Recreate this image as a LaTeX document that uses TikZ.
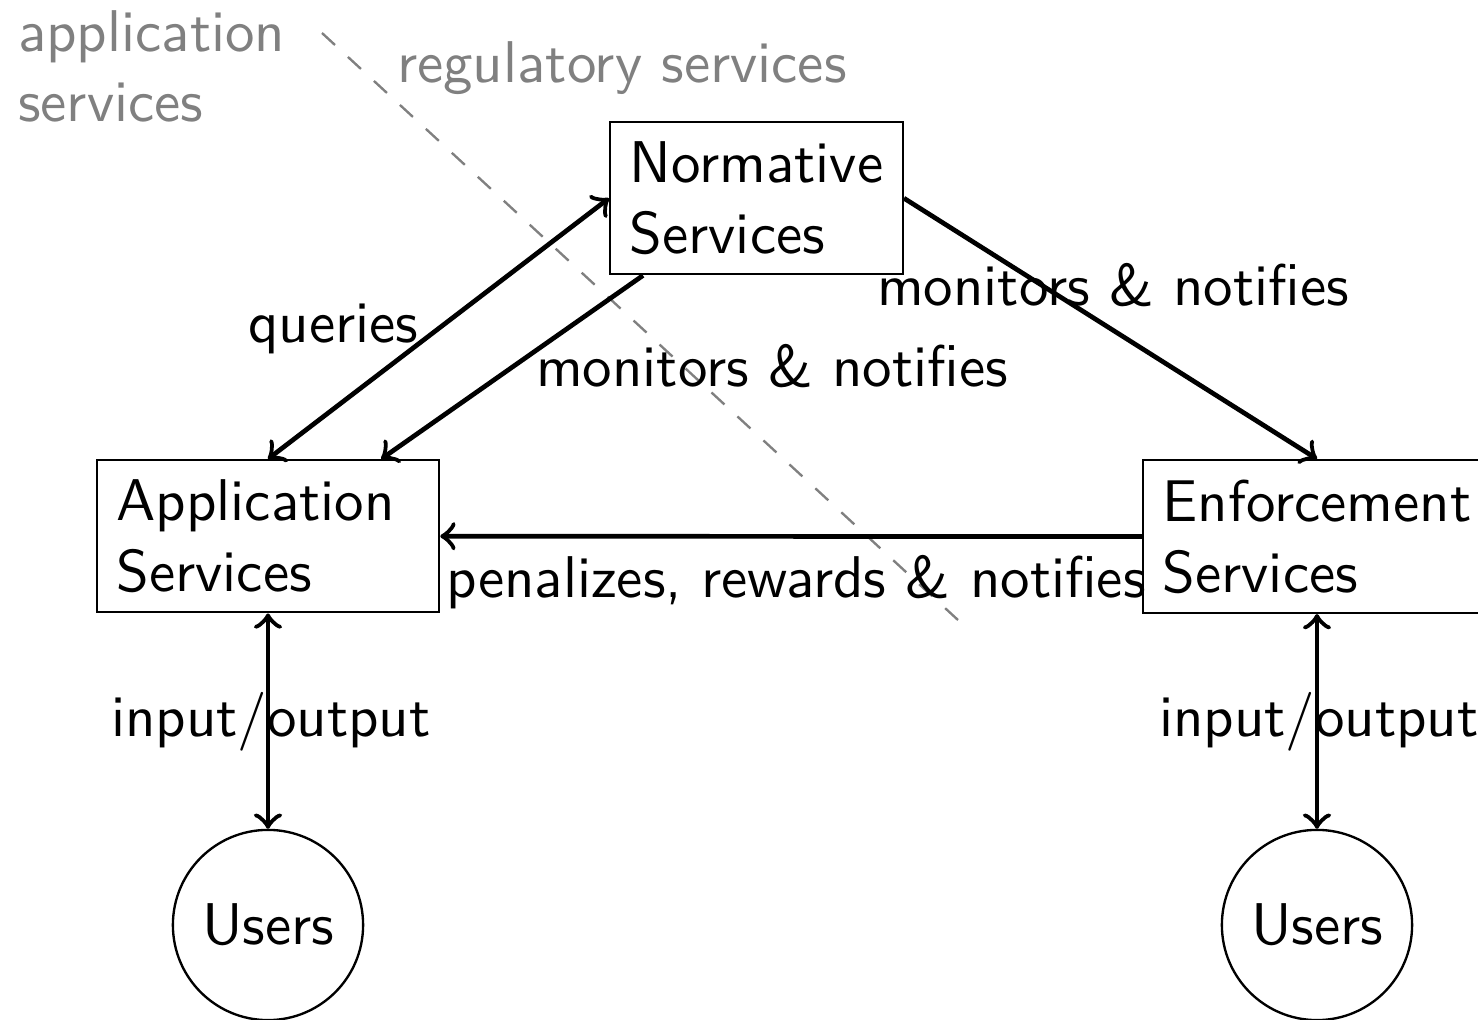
\documentclass[tikz,border=0pt]{standalone}
\usetikzlibrary{calc}
\begin{document}
\begin{tikzpicture}[x=0.1698pt,y=-0.1698pt,
  font=\sffamily,
  box/.style={draw,align=left,anchor=north west},
  wbox/.style={draw,align=left,anchor=north,minimum width=58.1pt,text width=51.4pt},
  usr/.style={draw,circle,minimum size=32.3pt},
  conn/.style={thick,->},
  bconn/.style={thick,<->},
  lbl/.style={anchor=base west,inner sep=0pt},
  region/.style={text=gray,anchor=base west,inner sep=0pt,align=left},
  divider/.style={gray,dashed}]
\clip (0,0) rectangle (1478,1020);
\useasboundingbox (0,0) rectangle (1478,1020);
\node[box] (norm) at (609,121) {Normative\\Services};
\node[wbox] (app) at (268,459) {Application\\Services};
\node[box,anchor=north] (enf) at (1317,459) {Enforcement\\Services};
\node[usr] (u1) at (268,925) {Users};
\node[usr] (u2) at (1317,925) {Users};
\node[region,anchor=north west] (appsvc) at (17,9) {application\\services};
\node[region] (regsvc) at (396,82) {regulatory services};
\coordinate (d1) at (322,33);
\coordinate (d2) at (958,620);
\draw[divider] (d1) -- (d2);
\draw[bconn] (app.north) -- (norm.west);
\draw[conn] ($(norm.south west)+(34,0)$) -- ($(app.north east)+(-59,0)$);
\draw[conn] (norm.east) -- (enf.north);
\draw[conn] (enf.west) -- (app.east);
\draw[bconn] (app.south) -- (u1.north);
\draw[bconn] (enf.south) -- (u2.north);
\node[lbl] (lq) at (247,342) {queries};
\node[lbl] (lm1) at (535,386) {monitors \& notifies};
\node[lbl] (lm2) at (876,305) {monitors \& notifies};
\node[lbl] (lp) at (445,597) {penalizes, rewards \& notifies};
\node[lbl] (lio1) at (110,736) {input/output};
\node[lbl] (lio2) at (1158,736) {input/output};
\end{tikzpicture}
\end{document}
